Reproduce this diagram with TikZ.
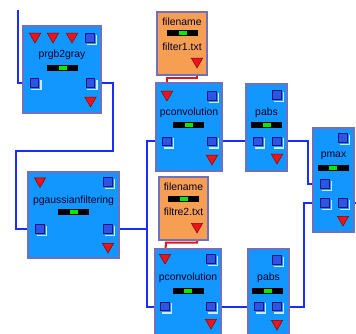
\documentclass[tikz,border=0pt]{standalone}
\usepackage{fontspec}
\setmainfont{Liberation Sans}
\usetikzlibrary{shapes.geometric}
\definecolor{boxblue}{RGB}{18,150,255}
\definecolor{boxedge}{RGB}{112,112,190}
\definecolor{fileorange}{RGB}{246,158,82}
\definecolor{wireblue}{RGB}{25,45,255}
\definecolor{wirered}{RGB}{235,20,20}
\definecolor{portnavy}{RGB}{20,20,130}
\definecolor{portblue}{RGB}{45,85,225}
\definecolor{barg}{RGB}{0,235,0}
\definecolor{trired}{RGB}{235,20,25}
\pgfdeclarelayer{bg}\pgfsetlayers{bg,main}
\tikzset{
  blk/.style={draw=boxedge, line width=2pt, fill=boxblue, inner sep=0pt},
  fbox/.style={draw=boxedge, line width=2pt, fill=fileorange, inner sep=0pt},
  port/.style={draw=portnavy, line width=1.3pt, fill=portblue, minimum size=8.5pt, inner sep=0pt},
  hl/.style={draw=white!80!boxblue, line width=1.3pt},
  tri/.style={regular polygon, regular polygon sides=3, shape border rotate=180,
     minimum size=13pt, inner sep=0pt, fill=trired, draw=red!55!black, line width=0.5pt},
  bar/.style={fill=black, minimum width=31pt, minimum height=6pt, inner sep=0pt},
  grn/.style={fill=barg, minimum width=8pt, minimum height=3.6pt, inner sep=0pt},
  lbl/.style={inner sep=0pt, font=\fontsize{10.4}{12}\selectfont, text=black!85!blue},
  wire/.style={draw=wireblue, line width=2pt},
  rwire/.style={draw=wirered, line width=2pt},
}
\begin{document}
\begin{tikzpicture}[x=1pt,y=-1pt]
\useasboundingbox (0,0) rectangle (356,334);
\clip (0,0) rectangle (356,334);
% prgb2gray
\node[blk, minimum width=78pt, minimum height=87pt] (prgb) at (62,69.5) {};
\node[tri] (prgbt1) at (35,36.5) {};
\node[tri] (prgbt2) at (53,36.5) {};
\node[tri] (prgbt3) at (72,36.5) {};
\node[port] (prgbsq) at (90,38) {};
\node[lbl] (prgbl) at (62,55) {prgb2gray};
\node[bar] (prgbb) at (62.5,68) {};
\node[grn] (prgbg) at (62.5,68) {};
\node[port] (prgbin) at (34.5,83) {};
\node[port] (prgbout) at (90.5,83) {};
\node[tri] (prgbt4) at (90.5,100.5) {};
% pgaussianfiltering
\node[blk, minimum width=91pt, minimum height=86pt] (pg) at (73.5,215) {};
\node[tri] (pgt1) at (40,181) {};
\node[port] (pgsq) at (108,182) {};
\node[lbl] (pgl) at (73.5,201) {pgaussianfiltering};
\node[bar] (pgb) at (73.5,212) {};
\node[grn] (pgg) at (73.5,212) {};
\node[port] (pgin) at (40,229) {};
\node[port] (pgout) at (108,229) {};
\node[tri] (pgt2) at (108,246.5) {};
% filename 1
\node[fbox, minimum width=50pt, minimum height=63pt] (f1) at (182,43.5) {};
\node[lbl] (f1l) at (182,22) {filename};
\node[bar] (f1b) at (182.5,33) {};
\node[grn] (f1g) at (182.5,33) {};
\node[lbl] (f1n) at (182,47) {filter1.txt};
\node[tri] (f1out) at (197,61.5) {};
% pconvolution 1
\node[blk, minimum width=66pt, minimum height=88pt] (pc1) at (189,127) {};
\node[tri] (pc1tri) at (167,94.5) {};
\node[port] (pc1sq) at (212,96) {};
\node[lbl] (pc1l) at (189,113) {pconvolution};
\node[bar] (pc1b) at (188.5,125) {};
\node[grn] (pc1g) at (188.5,125) {};
\node[port] (pc1in) at (167,141.5) {};
\node[port] (pc1out) at (212,141.5) {};
\node[tri] (pc1t2) at (212,158.5) {};
% filename 2
\node[fbox, minimum width=49pt, minimum height=63pt] (f2) at (183.5,208.5) {};
\node[lbl] (f2l) at (183.5,187) {filename};
\node[bar] (f2b) at (183.5,199) {};
\node[grn] (f2g) at (183.5,199) {};
\node[lbl] (f2n) at (183.5,212) {filtre2.txt};
\node[tri] (f2out) at (197,226.5) {};
% pconvolution 2
\node[blk, minimum width=66pt, minimum height=90pt] (pc2) at (188,294) {};
\node[tri] (pc2tri) at (165,257.5) {};
\node[port] (pc2sq) at (211,259) {};
\node[lbl] (pc2l) at (188,278) {pconvolution};
\node[bar] (pc2b) at (188,291) {};
\node[grn] (pc2g) at (188,291) {};
\node[port] (pc2in) at (165,306.5) {};
\node[port] (pc2out) at (211,306.5) {};
\node[tri] (pc2t2) at (211,322.5) {};
% pabs 1
\node[blk, minimum width=41pt, minimum height=87pt] (pa1) at (266.5,127.5) {};
\node[port] (pa1sq) at (277,95) {};
\node[lbl] (pa1l) at (266.5,113) {pabs};
\node[bar] (pa1b) at (266.5,125) {};
\node[grn] (pa1g) at (266.5,125) {};
\node[port] (pa1in) at (258,141.5) {};
\node[port] (pa1out) at (277,141.5) {};
\node[tri] (pa1t) at (277,157.5) {};
% pabs 2
\node[blk, minimum width=41pt, minimum height=86pt] (pa2) at (268.5,292) {};
\node[port] (pa2sq) at (277,260) {};
\node[lbl] (pa2l) at (268.5,278) {pabs};
\node[bar] (pa2b) at (267.5,291) {};
\node[grn] (pa2g) at (267.5,291) {};
\node[port] (pa2in) at (259,306.5) {};
\node[port] (pa2out) at (277,306.5) {};
\node[tri] (pa2t) at (277,323.5) {};
% pmax
\node[blk, minimum width=41pt, minimum height=104pt] (pm) at (333.5,180) {};
\node[port] (pmsq) at (343,138) {};
\node[lbl] (pml) at (333.5,156) {pmax};
\node[bar] (pmb) at (333,168) {};
\node[grn] (pmg) at (333,168) {};
\node[port] (pmin1) at (325,184) {};
\node[port] (pmin2) at (325,203) {};
\node[port] (pmout) at (343,203) {};
\node[tri] (pmt) at (343,219.5) {};
% port highlights
\foreach \p in {prgbsq,prgbin,prgbout,pgsq,pgin,pgout,pc1sq,pc1in,pc1out,pc2sq,pc2in,pc2out,pa1sq,pa1in,pa1out,pa2sq,pa2in,pa2out,pmsq,pmin1,pmin2,pmout}
  \draw[hl] ([shift={(1.6,0)}]\p.south west) ++(0,1.6) -| ([shift={(1.6,1.6)}]\p.north east);
% free ends
\coordinate (topin) at (18,10);
\coordinate (pmaxo) at (357,203);
% connectors
\begin{pgfonlayer}{bg}
\fill[white] (0,0) rectangle (356,334);
\draw[wire] (topin) |- (prgbin);
\draw[wire] (prgbout) -| (112.5,151) -| (16,229) -- (pgin);
\draw[wire] (pgout) -| (147,141.5) -- (pc1in);
\draw[wire] (147,229) |- (pc2in);
\draw[wire] (pc1out) -- (pa1in);
\draw[wire] (pc2out) -- (pa2in);
\draw[wire] (pa1out) -| (308,184) -- (pmin1);
\draw[wire] (pa2out) -| (304,203) -- (pmin2);
\draw[wire] (pmout) -- (pmaxo);
\draw[rwire] (f1out) |- (167,78.5) -- (pc1tri);
\draw[rwire] (f2out) |- (166,242.5) -- (pc2tri);
\end{pgfonlayer}
\end{tikzpicture}
\end{document}
